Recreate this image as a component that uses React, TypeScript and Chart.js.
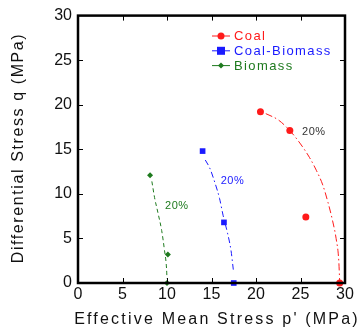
import React, { useEffect, useRef } from "react";
import { Chart, registerables } from "chart.js";

Chart.register(...registerables);

const coalP = [20.5, 23.8, 25.6, 29.4];
const coalQ = [19.2, 17.1, 7.4, 0];
const cbP = [14.0, 16.4, 17.5];
const cbQ = [14.8, 6.8, 0];
const bioP = [8.1, 10.1, 10.0];
const bioQ = [12.1, 3.2, 0];

const coalCurveP = [21.1, 22.5, 23.8, 25.0, 26.0, 26.8, 27.5, 28.1, 28.6, 29.0, 29.3, 29.4];
const coalCurveQ = [19.0, 18.3, 17.1, 15.6, 14.1, 12.6, 11.0, 9.0, 7.0, 5.0, 2.5, 0.2];
const cbCurveP = [14.3, 14.8, 15.4, 15.9, 16.3, 16.8, 17.2, 17.45];
const cbCurveQ = [13.8, 12.9, 11.2, 9.5, 7.6, 5.6, 3.6, 1.5];
const bioCurveP = [8.3, 8.6, 9.0, 9.4, 9.7, 9.95, 10.0];
const bioCurveQ = [11.4, 9.6, 7.8, 5.9, 3.8, 1.6, 0.5];

const labelText = ["20%", "20%", "20%"];
const labelP = [26.5, 17.35, 11.1];
const labelQ = [17.0, 11.5, 8.6];

const seriesNames = ["Coal", "Coal-Biomass", "Biomass"];
const RED = "#ff1a1a";
const BLUE = "#1a1aff";
const GREEN = "#1e7a1e";
const TICKS = [0, 5, 10, 15, 20, 25, 30];

const pts = (xs: number[], ys: number[]) => xs.map((x, i) => ({ x, y: ys[i] }));

const deco = {
  id: "deco",
  afterDraw(chart: any) {
    const { ctx, chartArea: a, scales } = chart;
    const xs = scales.x, ys = scales.y;
    ctx.save();
    ctx.strokeStyle = "#000";
    ctx.lineWidth = 2.5;
    ctx.strokeRect(a.left, a.top, a.right - a.left, a.bottom - a.top);
    ctx.lineWidth = 1;
    TICKS.slice(1, -1).forEach((v) => {
      const px = Math.round(xs.getPixelForValue(v)) + 0.5;
      ctx.beginPath();
      ctx.moveTo(px, a.bottom); ctx.lineTo(px, a.bottom - 5);
      ctx.moveTo(px, a.top); ctx.lineTo(px, a.top + 5);
      const py = Math.round(ys.getPixelForValue(v)) + 0.5;
      ctx.moveTo(a.left, py); ctx.lineTo(a.left + 5, py);
      ctx.moveTo(a.right, py); ctx.lineTo(a.right - 5, py);
      ctx.stroke();
    });
    // annotations
    const cols = ["#333", BLUE, GREEN];
    ctx.font = "11px 'Liberation Sans', Arial, sans-serif";
    ctx.textAlign = "center";
    ctx.textBaseline = "middle";
    (ctx as any).letterSpacing = "0.5px";
    labelText.forEach((t, i) => {
      ctx.fillStyle = cols[i];
      ctx.fillText(t, xs.getPixelForValue(labelP[i]), ys.getPixelForValue(labelQ[i]));
    });
    // legend
    const lcols = [RED, BLUE, GREEN];
    const styles = ["circle", "rect", "rectRot"];
    const radii = [3.5, 4, 2.5];
    ctx.font = "13px 'Liberation Sans', Arial, sans-serif";
    (ctx as any).letterSpacing = "1.4px";
    ctx.textAlign = "left";
    seriesNames.forEach((n, i) => {
      const y = 36 + i * 14.8;
      ctx.strokeStyle = lcols[i];
      ctx.fillStyle = lcols[i];
      ctx.lineWidth = 1;
      ctx.beginPath();
      ctx.moveTo(212, y); ctx.lineTo(230, y);
      ctx.stroke();
      ctx.beginPath();
      if (styles[i] === "circle") {
        ctx.arc(221, y, radii[i], 0, Math.PI * 2);
      } else if (styles[i] === "rect") {
        ctx.rect(221 - radii[i], y - radii[i], radii[i] * 2, radii[i] * 2);
      } else {
        const r = radii[i] + 0.5;
        ctx.moveTo(221, y - r); ctx.lineTo(221 + r, y); ctx.lineTo(221, y + r); ctx.lineTo(221 - r, y);
        ctx.closePath();
      }
      ctx.fill();
      ctx.fillText(n, 234, y + 0.5);
    });
    // axis titles
    ctx.fillStyle = "#111";
    ctx.font = "16px 'Liberation Sans', Arial, sans-serif";
    (ctx as any).letterSpacing = "2.2px";
    ctx.textAlign = "center";
    ctx.fillText("Effective Mean Stress p' (MPa)", 217, 320);
    ctx.translate(19, 148);
    ctx.rotate(-Math.PI / 2);
    (ctx as any).letterSpacing = "1.6px";
    ctx.fillText("Differential Stress q (MPa)", 0, 0);
    ctx.restore();
  },
};

export default function App() {
  const ref = useRef<HTMLCanvasElement>(null);
  useEffect(() => {
    if (!ref.current) return;
    const tickFont = { family: "'Liberation Sans', Arial, sans-serif", size: 16 };
    const chart = new Chart(ref.current, {
      type: "scatter",
      data: {
        datasets: [
          { data: pts(coalCurveP, coalCurveQ), showLine: true, borderColor: RED, borderWidth: 1, borderDash: [7, 3, 1.5, 3], pointRadius: 0, cubicInterpolationMode: "monotone", fill: false },
          { data: pts(cbCurveP, cbCurveQ), showLine: true, borderColor: BLUE, borderWidth: 1, borderDash: [6, 3, 1.5, 3], pointRadius: 0, cubicInterpolationMode: "monotone", fill: false },
          { data: pts(bioCurveP, bioCurveQ), showLine: true, borderColor: GREEN, borderWidth: 1, borderDash: [4, 3], pointRadius: 0, cubicInterpolationMode: "monotone", fill: false },
          { data: pts(coalP, coalQ), pointStyle: "circle", pointRadius: 3.5, backgroundColor: RED, borderColor: RED, borderWidth: 0, clip: false },
          { data: pts(cbP, cbQ), pointStyle: "rect", pointRadius: 4, backgroundColor: BLUE, borderColor: BLUE, borderWidth: 0, clip: false },
          { data: pts(bioP, bioQ), pointStyle: "rectRot", pointRadius: 3, backgroundColor: GREEN, borderColor: GREEN, borderWidth: 0, clip: false },
        ] as any,
      },
      options: {
        responsive: false,
        animation: false,
        layout: { padding: { top: 15, right: 16, left: 0, bottom: 0 } },
        plugins: { legend: { display: false }, tooltip: { enabled: false } },
        scales: {
          x: {
            type: "linear", min: 0, max: 30,
            grid: { display: false, drawTicks: false },
            border: { display: false },
            ticks: { stepSize: 5, padding: 2, color: "#111", font: tickFont, maxRotation: 0 },
            afterFit: (s: any) => { s.height = 51; },
          },
          y: {
            type: "linear", min: 0, max: 30,
            grid: { display: false, drawTicks: false },
            border: { display: false },
            ticks: { stepSize: 5, padding: 6, color: "#111", font: tickFont },
            afterFit: (s: any) => { s.width = 78; },
          },
        },
      } as any,
      plugins: [deco],
    });
    return () => chart.destroy();
  }, []);
  return (
    <div style={{ position: "fixed", left: 0, top: 0, width: 361, height: 334, background: "#fff" }}>
      <canvas ref={ref} width={361} height={334} style={{ display: "block" }} />
    </div>
  );
}
